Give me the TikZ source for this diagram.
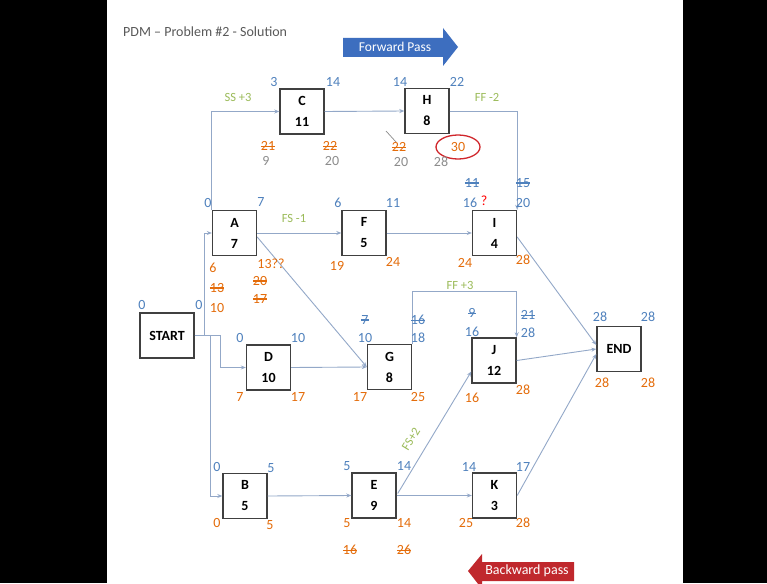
\documentclass[tikz,border=0pt]{standalone}
\usepackage{fontspec}
\setmainfont{Carlito}
\usetikzlibrary{arrows.meta,shapes.geometric,calc}
\newcommand\strk[1]{\setbox0=\hbox{#1}\rlap{\vrule height 0.36em depth -0.28em width \wd0}\box0}
\definecolor{esblue}{HTML}{4F81BD}
\definecolor{lforange}{HTML}{E46C0A}
\definecolor{lkgreen}{HTML}{9BBB59}
\definecolor{greytxt}{HTML}{8C8C8C}
\definecolor{linec}{HTML}{93A8C8}
\definecolor{boxc}{HTML}{404040}
\definecolor{fwdblue}{HTML}{3D6EBF}
\definecolor{bwdred}{HTML}{C0282D}
\definecolor{ellred}{HTML}{D0262B}
\definecolor{titlegrey}{HTML}{595959}
\begin{document}
\begin{tikzpicture}[x=1pt,y=-1pt,
 actbox/.style={draw=boxc,line width=1.4pt,fill=white,minimum width=44pt,minimum height=45pt,inner sep=1pt,align=center,font=\fontsize{14}{21}\selectfont\bfseries},
 link/.style={draw=linec,line width=0.9pt,-{Stealth[length=5pt,width=4pt]}},
 es/.style={text=esblue,font=\fontsize{14}{14}\selectfont,inner sep=0pt},
 lf/.style={text=lforange,font=\fontsize{14}{14}\selectfont,inner sep=0pt},
 gt/.style={text=greytxt,font=\fontsize{14}{14}\selectfont,inner sep=0pt},
 lk/.style={text=lkgreen,font=\fontsize{12.5}{12.5}\selectfont,inner sep=0pt},
]
\useasboundingbox (0,0) rectangle (767,583);
\fill[black] (0,0) rectangle (767,583);
\fill[white] (107,0) rectangle (683,583);

% title
\node[anchor=west,text=titlegrey,font=\fontsize{14}{14}\selectfont,inner sep=0pt] (title) at (123,32) {PDM -- Problem \#2 - Solution};

% pass arrows
\fill[fwdblue] (343,38) -- (443,38) -- (443,28) -- (458,47) -- (443,66) -- (443,57) -- (343,57) -- cycle;
\node[text=white,font=\fontsize{13.5}{14}\selectfont,inner sep=0pt] (fwdtxt) at (395,47) {Forward Pass};
\fill[bwdred] (468,571) -- (482,554) -- (482,562) -- (574,562) -- (574,581) -- (482,581) -- (482,589) -- cycle;
\node[text=white,font=\fontsize{14}{14}\selectfont,inner sep=0pt] (bwdtxt) at (527,571) {Backward pass};

% activity boxes
\node[actbox,minimum width=54pt] (START) at (167,335.5) {START};
\node[actbox] (A) at (234.5,233) {A\\7};
\node[actbox] (C) at (302,111.5) {C\\11};
\node[actbox] (H) at (427,111) {H\\8};
\node[actbox] (F) at (364,233) {F\\5};
\node[actbox] (I) at (494.5,233) {I\\4};
\node[actbox] (D) at (268.5,367.5) {D\\10};
\node[actbox] (G) at (389.5,367) {G\\8};
\node[actbox] (J) at (494,360.5) {J\\12};
\node[actbox] (END) at (619,349) {END};
\node[actbox] (B) at (245,496) {B\\5};
\node[actbox] (E) at (374,495.5) {E\\9};
\node[actbox] (K) at (494.5,495.5) {K\\3};

% connectors
\draw[link] (START.east) -- ++(10,0) |- (A.west);
\draw[link] (START.east) -- ++(26,0) |- (D.west);
\draw[link] (START.east) -- ++(16,0) |- (B.west);
\draw[link] (A.north west) |- (C.west);
\draw[link] (C.east) -- (H.west);
\draw[link] (H.east) -| (I.north east);
\draw[link] (A.east) -- (F.west);
\draw[link] ($(A.east)+(0,4)$) -- (G.west);
\draw[link] (D.east) -- (G.west);
\draw[link] (F.east) -- (I.west);
\draw[link] (G.north east) -- ++(0,-52) -| (J.north east);
\draw[link] ($(I.east)+(0,4)$) -- ($(END.west)+(0,-4)$);
\draw[link] (J.east) -- (END.west);
\draw[link] (K.east) -- ($(END.west)+(0,5)$);
\draw[link] (B.east) -- (E.west);
\draw[link] (E.east) -- (K.west);
\draw[link] ($(E.east)+(1,-2)$) -- ($(J.west)+(0,11)$);

% relationship labels
\node[lk] (ss3) at (238,97) {SS +3};
\node[lk] (ffm2) at (487,97) {FF -2};
\node[lk] (fsm1) at (294,218) {FS -1};
\node[lk] (ff3) at (460,285) {FF +3};
\node[lk,rotate=58.5] (fs2) at (411,439) {FS+2};

% START
\node[es] (s1) at (142,305) {0};
\node[es] (s2) at (199,305) {0};
% A
\node[es] (a1) at (208,203) {0};
\node[es] (a2) at (261,202) {7};
\node[lf] (a3) at (213,268) {6};
\node[lf] (a4) at (217,288) {\strk{13}};
\node[lf] (a5) at (217,308) {10};
\node[lf] (a6) at (271,264) {13??};
\node[lf] (a7) at (260,281) {\strk{20}};
\node[lf] (a8) at (260,299) {\strk{17}};
% C
\node[es] (c1) at (274,82) {3};
\node[es] (c2) at (333,82) {14};
\node[lf] (c3) at (268,146) {\strk{21}};
\node[gt] (c4) at (266,161) {9};
\node[lf] (c5) at (330,146) {\strk{22}};
\node[gt] (c6) at (332,161) {20};
% H
\node[es] (h1) at (400,82) {14};
\node[es] (h2) at (457,82) {22};
\node[lf] (h3) at (399,147) {\strk{22}};
\node[gt] (h4) at (401,162) {20};
\node[ellipse,draw=ellred,line width=1.3pt,minimum width=44pt,minimum height=24pt,inner sep=0pt,text=lforange,font=\fontsize{14}{14}\selectfont] (h5) at (458,147) {30};
\node[gt] (h6) at (441,162) {28};
\coordinate (hs1) at (386,131);
\coordinate (hs2) at (396,142);
\draw[greytxt,line width=0.7pt] (hs1) -- (hs2);
% F
\node[es] (f1) at (338,203) {6};
\node[es] (f2) at (393,203) {11};
\node[lf] (f3) at (337,266) {19};
\node[lf] (f4) at (393,262) {24};
% I
\node[es] (i1) at (472,183) {\strk{11}};
\node[es] (i2) at (470,203) {16};
\node[text=red,font=\fontsize{14}{14}\selectfont,inner sep=0pt] (i3) at (484,201) {?};
\node[es] (i4) at (523,183) {\strk{15}};
\node[es] (i5) at (523,203) {20};
\node[lf] (i6) at (465,263) {24};
\node[lf] (i7) at (523,260) {28};
% D
\node[es] (d1) at (240,338) {0};
\node[es] (d2) at (298,338) {10};
\node[lf] (d3) at (240,397) {7};
\node[lf] (d4) at (298,397) {17};
% G
\node[es] (g1) at (365,320) {\strk{7}};
\node[es] (g2) at (365,338) {10};
\node[es] (g3) at (418,320) {\strk{16}};
\node[es] (g4) at (418,338) {18};
\node[lf] (g5) at (360,397) {17};
\node[lf] (g6) at (418,397) {25};
% J
\node[es] (j1) at (472,313) {\strk{9}};
\node[es] (j2) at (472,332) {16};
\node[es] (j3) at (528,315) {\strk{21}};
\node[es] (j4) at (528,333) {28};
\node[lf] (j5) at (472,398) {16};
\node[lf] (j6) at (523,390) {28};
% END
\node[es] (e1) at (600,317) {28};
\node[es] (e2) at (648,317) {28};
\node[lf] (e3) at (602,383) {28};
\node[lf] (e4) at (648,383) {28};
% B
\node[es] (b1) at (217,467) {0};
\node[es] (b2) at (271,468) {5};
\node[lf] (b3) at (217,523) {0};
\node[lf] (b4) at (270,525) {5};
% E
\node[es] (ee1) at (347,466) {5};
\node[es] (ee2) at (404,466) {14};
\node[lf] (ee3) at (347,523) {5};
\node[lf] (ee4) at (404,523) {14};
\node[lf] (ee5) at (350,550) {\strk{16}};
\node[lf] (ee6) at (404,550) {\strk{26}};
% K
\node[es] (k1) at (469,467) {14};
\node[es] (k2) at (523,467) {17};
\node[lf] (k3) at (466,523) {25};
\node[lf] (k4) at (523,523) {28};
\end{tikzpicture}
\end{document}
